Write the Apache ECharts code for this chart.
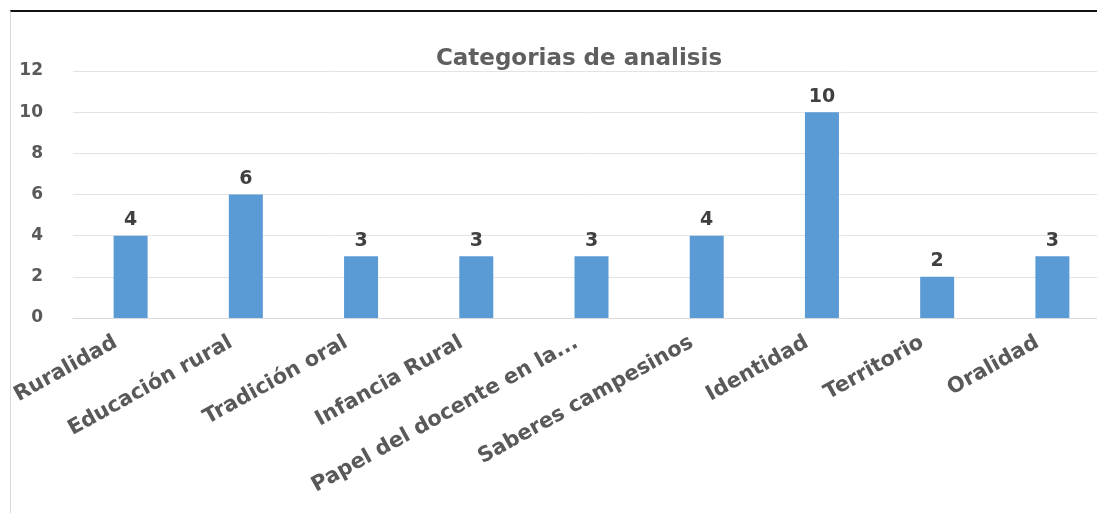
<!DOCTYPE html>
<html>
<head>
<meta charset="utf-8">
<script src="https://cdn.jsdelivr.net/npm/echarts@6/dist/echarts.min.js"></script>
<style>
html,body{margin:0;padding:0;background:#fff;overflow:hidden;}
#frame{position:absolute;left:10px;top:10px;width:1087px;height:503px;border-top:2px solid #111;border-left:1px solid #d9d9d9;box-sizing:border-box;}
#chart{position:absolute;left:0;top:0;width:1097px;height:513px;}
</style>
</head>
<body>
<div id="frame"></div>
<div id="chart"></div>
<script>
const categories = ["Ruralidad", "Educación rural", "Tradición oral", "Infancia Rural", "Papel del docente en la...", "Saberes campesinos", "Identidad", "Territorio", "Oralidad"];
const values = [4, 6, 3, 3, 3, 4, 10, 2, 3];
const yTicks = [0, 2, 4, 6, 8, 10, 12];
const titleText = "Categorias de analisis";

const chart = echarts.init(document.getElementById('chart'), null, {renderer: 'canvas'});
chart.setOption({
  animation: false,
  backgroundColor: 'transparent',
  title: {
    text: titleText,
    left: 574, top: 43,
    textAlign: 'center',
    textStyle: {fontFamily: 'DejaVu Sans', fontSize: 23, fontWeight: 'bold', color: '#5f5f5f'}
  },
  grid: {left: 73, width: 1037, top: 71, height: 247, containLabel: false, outerBoundsMode: 'none'},
  xAxis: {
    type: 'category',
    data: categories,
    axisLine: {show: true, lineStyle: {color: '#d9d9d9', width: 1}},
    axisTick: {show: false},
    axisLabel: {
      interval: 0, rotate: 29, margin: 15, padding: [0, 17, 0, 0],
      fontFamily: 'DejaVu Sans', fontSize: 21, fontWeight: 'bold', color: '#595959'
    }
  },
  yAxis: {
    type: 'value',
    min: yTicks[0], max: yTicks[yTicks.length - 1], interval: 2,
    axisLine: {show: false},
    axisTick: {show: false},
    splitLine: {lineStyle: {color: '#e3e3e3', width: 1}},
    axisLabel: {margin: 30, fontFamily: 'DejaVu Sans', fontSize: 17, fontWeight: 'bold', color: '#595959'}
  },
  series: [{
    type: 'bar',
    data: values,
    barWidth: 34,
    itemStyle: {color: '#5b9bd5'},
    label: {
      show: true, position: 'top', distance: 6,
      fontFamily: 'DejaVu Sans', fontSize: 19, fontWeight: 'bold', color: '#404040'
    }
  }]
});
</script>
</body>
</html>
